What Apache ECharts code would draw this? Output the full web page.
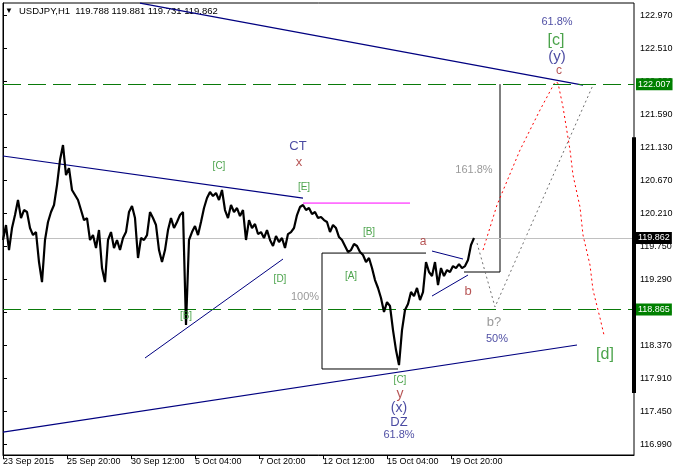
<!DOCTYPE html>
<html><head><meta charset="utf-8">
<script src="https://cdn.jsdelivr.net/npm/echarts@6/dist/echarts.min.js"></script>
<style>html,body{margin:0;padding:0;background:#fff}#c{width:678px;height:466px}</style>
</head><body><div id="c"></div><script>
// USDJPY H1 closes, one value every 3 bars
const barStep = 3;
const closes = [
119.834,120.043,119.694,120.001,120.182,120.391,120.140,120.252,120.224,120.001,
119.903,119.945,119.527,119.248,119.834,120.085,120.224,120.322,120.600,120.949,
121.158,120.740,120.837,120.531,120.461,120.391,120.252,120.112,120.140,119.834,
119.903,119.722,119.973,119.443,119.248,119.834,119.945,119.722,119.834,119.694,
119.862,119.945,120.224,120.308,120.140,119.583,119.862,119.834,119.903,120.224,
120.140,120.043,119.694,119.527,119.694,119.973,120.140,120.001,120.085,120.182,
120.224,118.649,119.834,119.945,120.029,119.903,120.085,120.280,120.419,120.503,
120.447,120.489,120.391,120.531,120.252,120.140,120.322,120.224,120.280,120.168,
120.252,119.834,120.112,120.001,120.057,119.917,119.945,119.862,119.973,119.834,
119.750,119.889,119.806,119.862,119.722,119.917,119.945,120.001,120.182,120.294,
120.322,120.252,120.280,120.196,120.224,120.140,120.154,120.112,120.085,119.945,
120.043,120.001,119.875,119.834,119.750,119.666,119.694,119.778,119.750,119.666,
119.625,119.527,119.583,119.443,119.276,119.165,119.025,118.830,118.969,118.914,
118.579,118.300,118.091,118.579,118.858,118.942,119.109,119.053,119.165,118.997,
119.109,119.527,119.388,119.332,119.527,119.206,119.443,119.332,119.415,119.388,
119.471,119.443,119.499,119.443,119.471,119.555,119.764,119.862
];
const headerText = 'USDJPY,H1  119.788 119.881 119.731 119.862';
const xTickBars = [0, 64, 128, 192, 256, 320, 384, 448];
const xTickLabels = ['23 Sep 2015','25 Sep 20:00','30 Sep 12:00','5 Oct 04:00','7 Oct 20:00','12 Oct 12:00','15 Oct 04:00','19 Oct 20:00'];
const yTicks = [116.99,117.45,117.91,118.37,118.83,119.29,119.75,120.21,120.67,121.13,121.59,122.05,122.51,122.97];
const levelHigh = 122.007, levelLow = 118.865, lastPrice = 119.862;

// drawn objects: [bar, price] points
const upperTriangleLine = [[0,121.005],[300,120.419]];
const topChannelLine = [[137,123.137],[580,121.994]];
const lowerChannelLine = [[0,117.157],[574,118.370]];
const bdLine = [[142,118.189],[280,119.569]];
const abUpper = [[429,119.680],[460,119.569]];
const abLower = [[429,119.053],[465,119.346]];
const magentaLine = [[300,120.349],[407,120.349]];
const box1 = [[423,119.652],[319,119.652],[319,118.036],[395,118.036]];
const box2 = [[461,119.388],[497,119.388],[497,122.007]];
const redPath = [[480,119.694],[494,120.322],[517,121.088],[537,121.646],[552,122.036],[555,122.022],[560,121.688],[567,121.088],[570,120.740],[577,120.294],[580,119.903],[587,119.485],[590,119.137],[597,118.747],[601,118.510]];
const grayPath = [[474,119.792],[492,118.900],[590,121.994]];
const scaleBar = [[631,121.265],[631,117.701]];
const notes = [
 ['CT',295,121.144],['x',296,120.921],['[C]',216,120.865],['[E]',301,120.572],
 ['[D]',277,119.290],['[B]',183,118.774],['[B]',366,119.945],['[A]',348,119.332],
 ['[C]',397,117.882],['y',397,117.687],['(x)',396,117.492],['DZ',396,117.297],
 ['61.8%',396,117.116],['100%',302,119.039],['161.8%',471,120.809],['a',420,119.806],
 ['b',465,119.123],['b?',491,118.691],['50%',494,118.454],['[d]',602,118.231],
 ['61.8%',554,122.872],['[c]',553,122.608],['(y)',554,122.384],['c',556,122.189]
];

const NAVY='#1c1c8a', GREEN='#1e8c1e', BROWN='#a52a2a', GRAY='#808080';
const noteStyle = {
 'CT':[NAVY,13],'x':[BROWN,13],'[C]':[GREEN,10],'[E]':[GREEN,10],'[D]':[GREEN,10],
 '[B]':[GREEN,10],'[A]':[GREEN,10],'y':[BROWN,14],'(x)':[NAVY,14],'DZ':[NAVY,13],
 '61.8%':[NAVY,11],'100%':[GRAY,11],'161.8%':[GRAY,11],'a':[BROWN,12],'b':[BROWN,13],
 'b?':[GRAY,13],'50%':[NAVY,11],'[d]':[GREEN,16],'[c]':[GREEN,16],'(y)':[NAVY,15],'c':[BROWN,12]
};
const FONT = 'Liberation Sans';

function seg(data, color, width, type, z) {
  return {type:'line', data:data, symbol:'none', silent:true, clip:false, z:z||3,
    lineStyle:{color:color, width:width, type:type||'solid'}};
}
function lvlLabel(bg){
  return {show:true, position:'end', distance:2, formatter:'{b}',
    backgroundColor:bg, color:'#fff', fontSize:9, fontFamily:FONT, padding:[2,2,1,2]};
}

const chart = echarts.init(document.getElementById('c'));
const lowerSeries = seg(lowerChannelLine, '#000080', 1.2);
lowerSeries.markLine = {
  silent:true, symbol:['none','none'], animation:false, precision:3,
  data:[
    {name:levelHigh.toFixed(3), yAxis:levelHigh, lineStyle:{color:'#0a7a0a', width:1, type:[18,7]}, label:lvlLabel('#008000')},
    {name:levelLow.toFixed(3), yAxis:levelLow, lineStyle:{color:'#0a7a0a', width:1, type:[18,7]}, label:lvlLabel('#008000')},
    {name:lastPrice.toFixed(3), yAxis:lastPrice, lineStyle:{color:'#c0c0c0', width:1, type:'solid'}, label:lvlLabel('#000')}
  ]
};

chart.setOption({
  animation:false,
  backgroundColor:'#fff',
  grid:{left:3, top:3, right:44, bottom:11, show:true, borderColor:'#000', borderWidth:1},
  graphic:[
    {type:'text', left:5, top:7, z:0, style:{text:'\u25BC', fontSize:8, fill:'#000', fontFamily:FONT}},
    {type:'text', left:19, top:6, z:0, style:{text:headerText, fontSize:9.5, fill:'#000', fontFamily:FONT}}
  ],
  xAxis:{type:'value', min:0, max:631, splitLine:{show:false},
    axisLine:{show:true, lineStyle:{color:'#000'}},
    axisTick:{show:true, length:4, lineStyle:{color:'#000'}, customValues:xTickBars},
    axisLabel:{customValues:xTickBars, align:'left', margin:2, fontSize:9, color:'#000', fontFamily:FONT,
      formatter:v=>{const i=xTickBars.indexOf(v); return i<0?'':xTickLabels[i];}}
  },
  yAxis:{type:'value', position:'right', min:116.837, max:123.138, splitLine:{show:false}, scale:true,
    axisLine:{show:true, lineStyle:{color:'#000'}},
    axisTick:{show:true, length:4, lineStyle:{color:'#000'}, customValues:yTicks},
    axisLabel:{customValues:yTicks, margin:6, fontSize:9, color:'#000', fontFamily:FONT, formatter:v=>v.toFixed(3)}
  },
  series:[
    lowerSeries,
    seg(upperTriangleLine, '#000080', 1.2),
    seg(topChannelLine, '#000080', 1.2),
    seg(bdLine, '#000080', 1),
    seg(abUpper, '#000080', 1),
    seg(abLower, '#000080', 1),
    seg(magentaLine, '#ff00ff', 1),
    seg(box1, '#000', 1),
    seg(box2, '#000', 1),
    seg(redPath, '#ff0000', 1, [2,3]),
    seg(grayPath, '#707070', 1, [2,3]),
    seg(scaleBar, '#000', 4, 'solid', 6),
    {type:'line', name:'USDJPY', data:closes.map((p,i)=>[i*barStep, p]), symbol:'none', silent:true,
      lineStyle:{color:'#000', width:2.2}, z:5},
    {type:'scatter', symbolSize:1, silent:true, z:7, itemStyle:{color:'rgba(0,0,0,0)'},
      data:notes.map(n=>({name:n[0], value:[n[1], n[2]],
        label:{show:true, position:'inside', formatter:'{b}', color:noteStyle[n[0]][0],
          fontSize:noteStyle[n[0]][1], fontFamily:FONT}}))}
  ]
});
</script></body></html>
